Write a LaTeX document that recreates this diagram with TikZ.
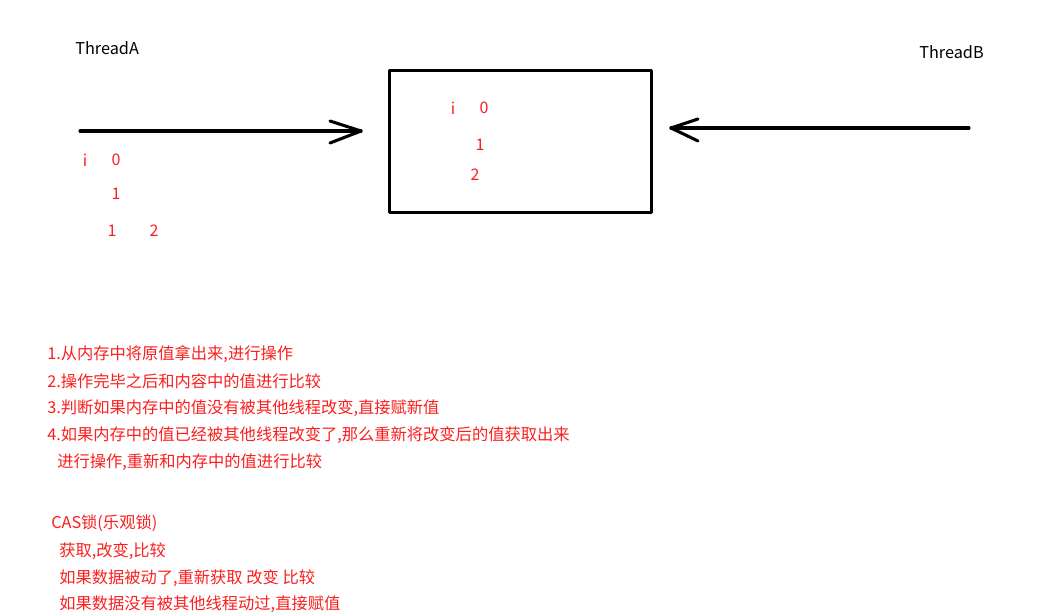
\documentclass[tikz,border=0pt]{standalone}
\usepackage{fontspec}
\newfontfamily\cjk{Noto Sans CJK SC}
\definecolor{txtred}{RGB}{250,30,30}
\tikzset{
  lbl/.style={font=\cjk\fontsize{12.2pt}{14pt}\selectfont, inner sep=0pt, anchor=west},
  rlbl/.style={lbl, text=txtred},
  num/.style={font=\cjk\fontsize{12pt}{14pt}\selectfont, inner sep=0pt, text=txtred},
  thick3/.style={line width=2.3pt, line cap=round, line join=round}
}
\begin{document}
\begin{tikzpicture}[x=0.75pt,y=-0.75pt]
\useasboundingbox (0,0) rectangle (1051,614);
% titles
\node[lbl] (ta) at (75,48) {ThreadA};
\node[lbl] (tb) at (919,52) {ThreadB};
% memory box
\node[draw, thick3, minimum width=262*0.75pt, minimum height=142*0.75pt, inner sep=0pt, anchor=north west] (mem) at (388,69) {};
% arrow A
\coordinate (a0) at (80,131);
\coordinate (a1) at (361,131);
\coordinate (a1u) at (330,121);
\coordinate (a1d) at (330,143);
\draw[thick3] (a0) -- (a1);
\draw[thick3] (a1u) -- (a1) -- (a1d);
% arrow B
\coordinate (b0) at (969,128);
\coordinate (b1) at (671,128);
\coordinate (b1u) at (698,119);
\coordinate (b1d) at (698,141);
\draw[thick3] (b0) -- (b1);
\draw[thick3] (b1u) -- (b1) -- (b1d);
% box values
\node[num] (mi) at (453,108) {i};
\node[num] (m0) at (484,108) {0};
\node[num] (m1) at (480,145) {1};
\node[num] (m2) at (475,175) {2};
% thread A values
\node[num] (li) at (85,160) {i};
\node[num] (l0) at (116,160) {0};
\node[num] (l1) at (116,194) {1};
\node[num] (l1b) at (112,231) {1};
\node[num] (l2) at (154,231) {2};
% steps
\node[rlbl] (s1) at (47,354) {1.从内存中将原值拿出来,进行操作};
\node[rlbl] (s2) at (47,381) {2.操作完毕之后和内容中的值进行比较};
\node[rlbl] (s3) at (47,408) {3.判断如果内存中的值没有被其他线程改变,直接赋新值};
\node[rlbl] (s4) at (47,435) {4.如果内存中的值已经被其他线程改变了,那么重新将改变后的值获取出来};
\node[rlbl] (s5) at (57,462) {进行操作,重新和内存中的值进行比较};
% CAS
\node[rlbl] (c0) at (51,523) {CAS锁(乐观锁)};
\node[rlbl] (c1) at (59,551) {获取,改变,比较};
\node[rlbl] (c2) at (59,578) {如果数据被动了,重新获取 改变 比较};
\node[rlbl] (c3) at (59,604) {如果数据没有被其他线程动过,直接赋值};
\end{tikzpicture}
\end{document}
